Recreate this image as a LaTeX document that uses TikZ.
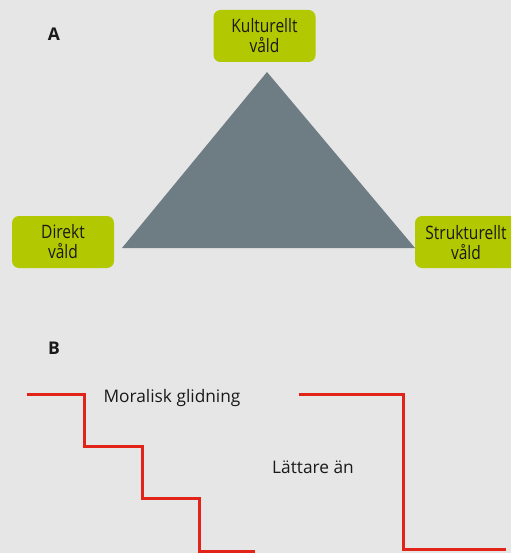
\documentclass[tikz,border=0pt]{standalone}
\usepackage{fontspec}
\setmainfont{Open Sans}
\newfontfamily\condfont[FakeStretch=0.84]{Open Sans}
\definecolor{bg}{HTML}{E6E6E6}
\definecolor{tri}{HTML}{6E7C84}
\definecolor{lime}{HTML}{B2C800}
\definecolor{stepred}{HTML}{E2231A}
\tikzset{
  vbox/.style={fill=lime, rounded corners=7pt, minimum width=102pt, minimum height=52pt,
    inner sep=0pt, align=center, font=\condfont\fontsize{18.5}{20}\selectfont, text=black!90},
  panel/.style={font=\bfseries\fontsize{17.5}{18}\selectfont, text=black!90},
  plain/.style={font=\fontsize{17.3}{18}\selectfont, text=black!90},
  stairs/.style={draw=stepred, line width=3pt, line join=miter}
}
\begin{document}
\begin{tikzpicture}[x=1pt,y=-1pt]
\fill[bg] (0,0) rectangle (511,553);
\useasboundingbox (0,0) rectangle (511,553);
\node[panel] (A) at (54,34) {A};
\node[panel] (B) at (54,348) {B};
\fill[tri] (267,72) -- (415,248) -- (122,248) -- cycle;
\coordinate (apex) at (267,72);
\node[vbox] (kult) at (264.5,36) {Kulturellt\\våld};
\node[vbox] (dir) at (63,242) {Direkt\\våld};
\begin{scope}
\clip (0,0) rectangle (511,553);
\node[vbox, minimum width=110pt] (str) at (470,242) {};
\end{scope}
\node[font=\condfont\fontsize{18.5}{20}\selectfont, text=black!90, align=center, inner sep=0pt] (strt) at (466,243) {Strukturellt\\våld};
\coordinate (l0) at (27,394);
\coordinate (l1) at (255,551);
\draw[stairs] (l0) -- (84,394) -- (84,446) -- (142,446) -- (142,498) -- (199,498) -- (199,551) -- (l1);
\coordinate (r0) at (299,394);
\coordinate (r1) at (506,549);
\draw[stairs] (r0) -- (403,394) -- (403,549) -- (r1);
\node[plain] (moral) at (172,398) {Moralisk glidning};
\node[plain] (latt) at (313,467) {Lättare än};
\end{tikzpicture}
\end{document}
